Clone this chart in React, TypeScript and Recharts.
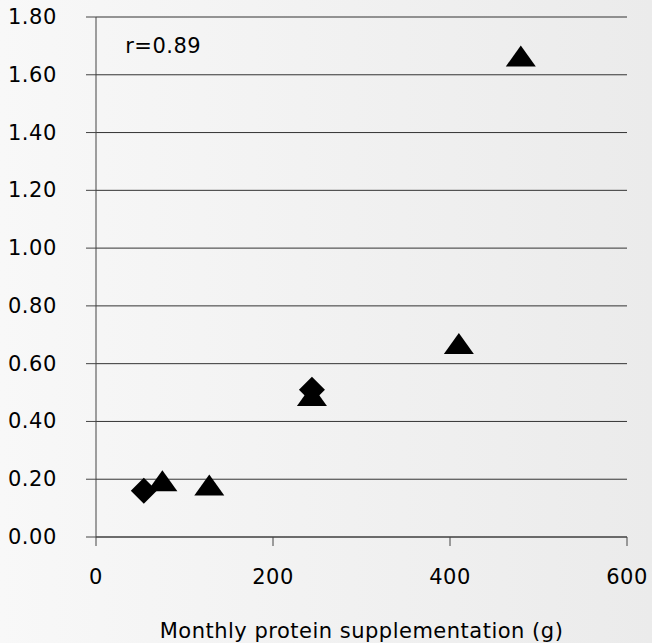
import { FC } from 'react';
import { ScatterChart, Scatter, XAxis, YAxis, CartesianGrid, ReferenceDot } from 'recharts';

const diamondPoints = [
	{ x: 54, y: 0.16 },
	{ x: 244, y: 0.51 },
];

const trianglePoints = [
	{ x: 75, y: 0.195 },
	{ x: 128, y: 0.18 },
	{ x: 244, y: 0.49 },
	{ x: 410, y: 0.67 },
	{ x: 480, y: 1.665 },
];

const xTicks = [0, 200, 400, 600];
const yTicks = [0, 0.2, 0.4, 0.6, 0.8, 1.0, 1.2, 1.4, 1.6, 1.8];

const font = '"DejaVu Sans", sans-serif';
const fontSize = 21;
const spacing = 0.5;

const Diamond = (props: any) => {
	const { cx, cy } = props;
	const h = 13;
	return <polygon points={`${cx},${cy - h} ${cx + h},${cy} ${cx},${cy + h} ${cx - h},${cy}`} fill='#000' />;
};

const Triangle = (props: any) => {
	const { cx, cy } = props;
	return <polygon points={`${cx},${cy - 10.5} ${cx + 15},${cy + 10.5} ${cx - 15},${cy + 10.5}`} fill='#000' />;
};

const YTick = (props: any) => {
	const { y, payload } = props;
	return (
		<text x={8} y={y} fill='#000' fontSize={fontSize} letterSpacing={spacing} fontFamily={font} textAnchor='start' dominantBaseline='central'>
			{payload.value.toFixed(2)}
		</text>
	);
};

const XTick = (props: any) => {
	const { x, y, payload } = props;
	return (
		<text x={x} y={y + 29} fill='#000' fontSize={fontSize} letterSpacing={spacing} fontFamily={font} textAnchor='middle' dominantBaseline='central'>
			{payload.value}
		</text>
	);
};

const App: FC = () => {
	return (
		<div
			style={{
				position: 'absolute',
				left: 0,
				top: 0,
				width: 652,
				height: 643,
				background: 'linear-gradient(to right, #f8f8f8, #ebebeb)',
			}}
		>
			<ScatterChart width={652} height={643} margin={{ top: 17, right: 25, left: 0, bottom: 0 }}>
				<CartesianGrid vertical={false} stroke='#333' horizontalValues={yTicks} />
				<XAxis
					type='number'
					dataKey='x'
					domain={[0, 600]}
					ticks={xTicks}
					tickSize={9}
					height={106}
					stroke='#444'
					tick={<XTick />}
					label={{ value: 'Monthly protein supplementation (g)', position: 'insideBottom', offset: 5, fill: '#000', fontSize, letterSpacing: spacing, fontFamily: font }}
				/>
				<YAxis
					type='number'
					dataKey='y'
					domain={[0, 1.8]}
					ticks={yTicks}
					width={96}
					tickSize={10}
					stroke='#444'
					tick={<YTick />}
				/>
				<ReferenceDot
					x={33}
					y={1.7}
					r={0}
					fill='none'
					stroke='none'
					label={{ value: 'r=0.89', position: 'right', offset: 0, fill: '#000', fontSize, letterSpacing: spacing, fontFamily: font }}
				/>
				<Scatter data={diamondPoints} shape={<Diamond />} isAnimationActive={false} />
				<Scatter data={trianglePoints} shape={<Triangle />} isAnimationActive={false} />
			</ScatterChart>
		</div>
	);
};

export default App;
